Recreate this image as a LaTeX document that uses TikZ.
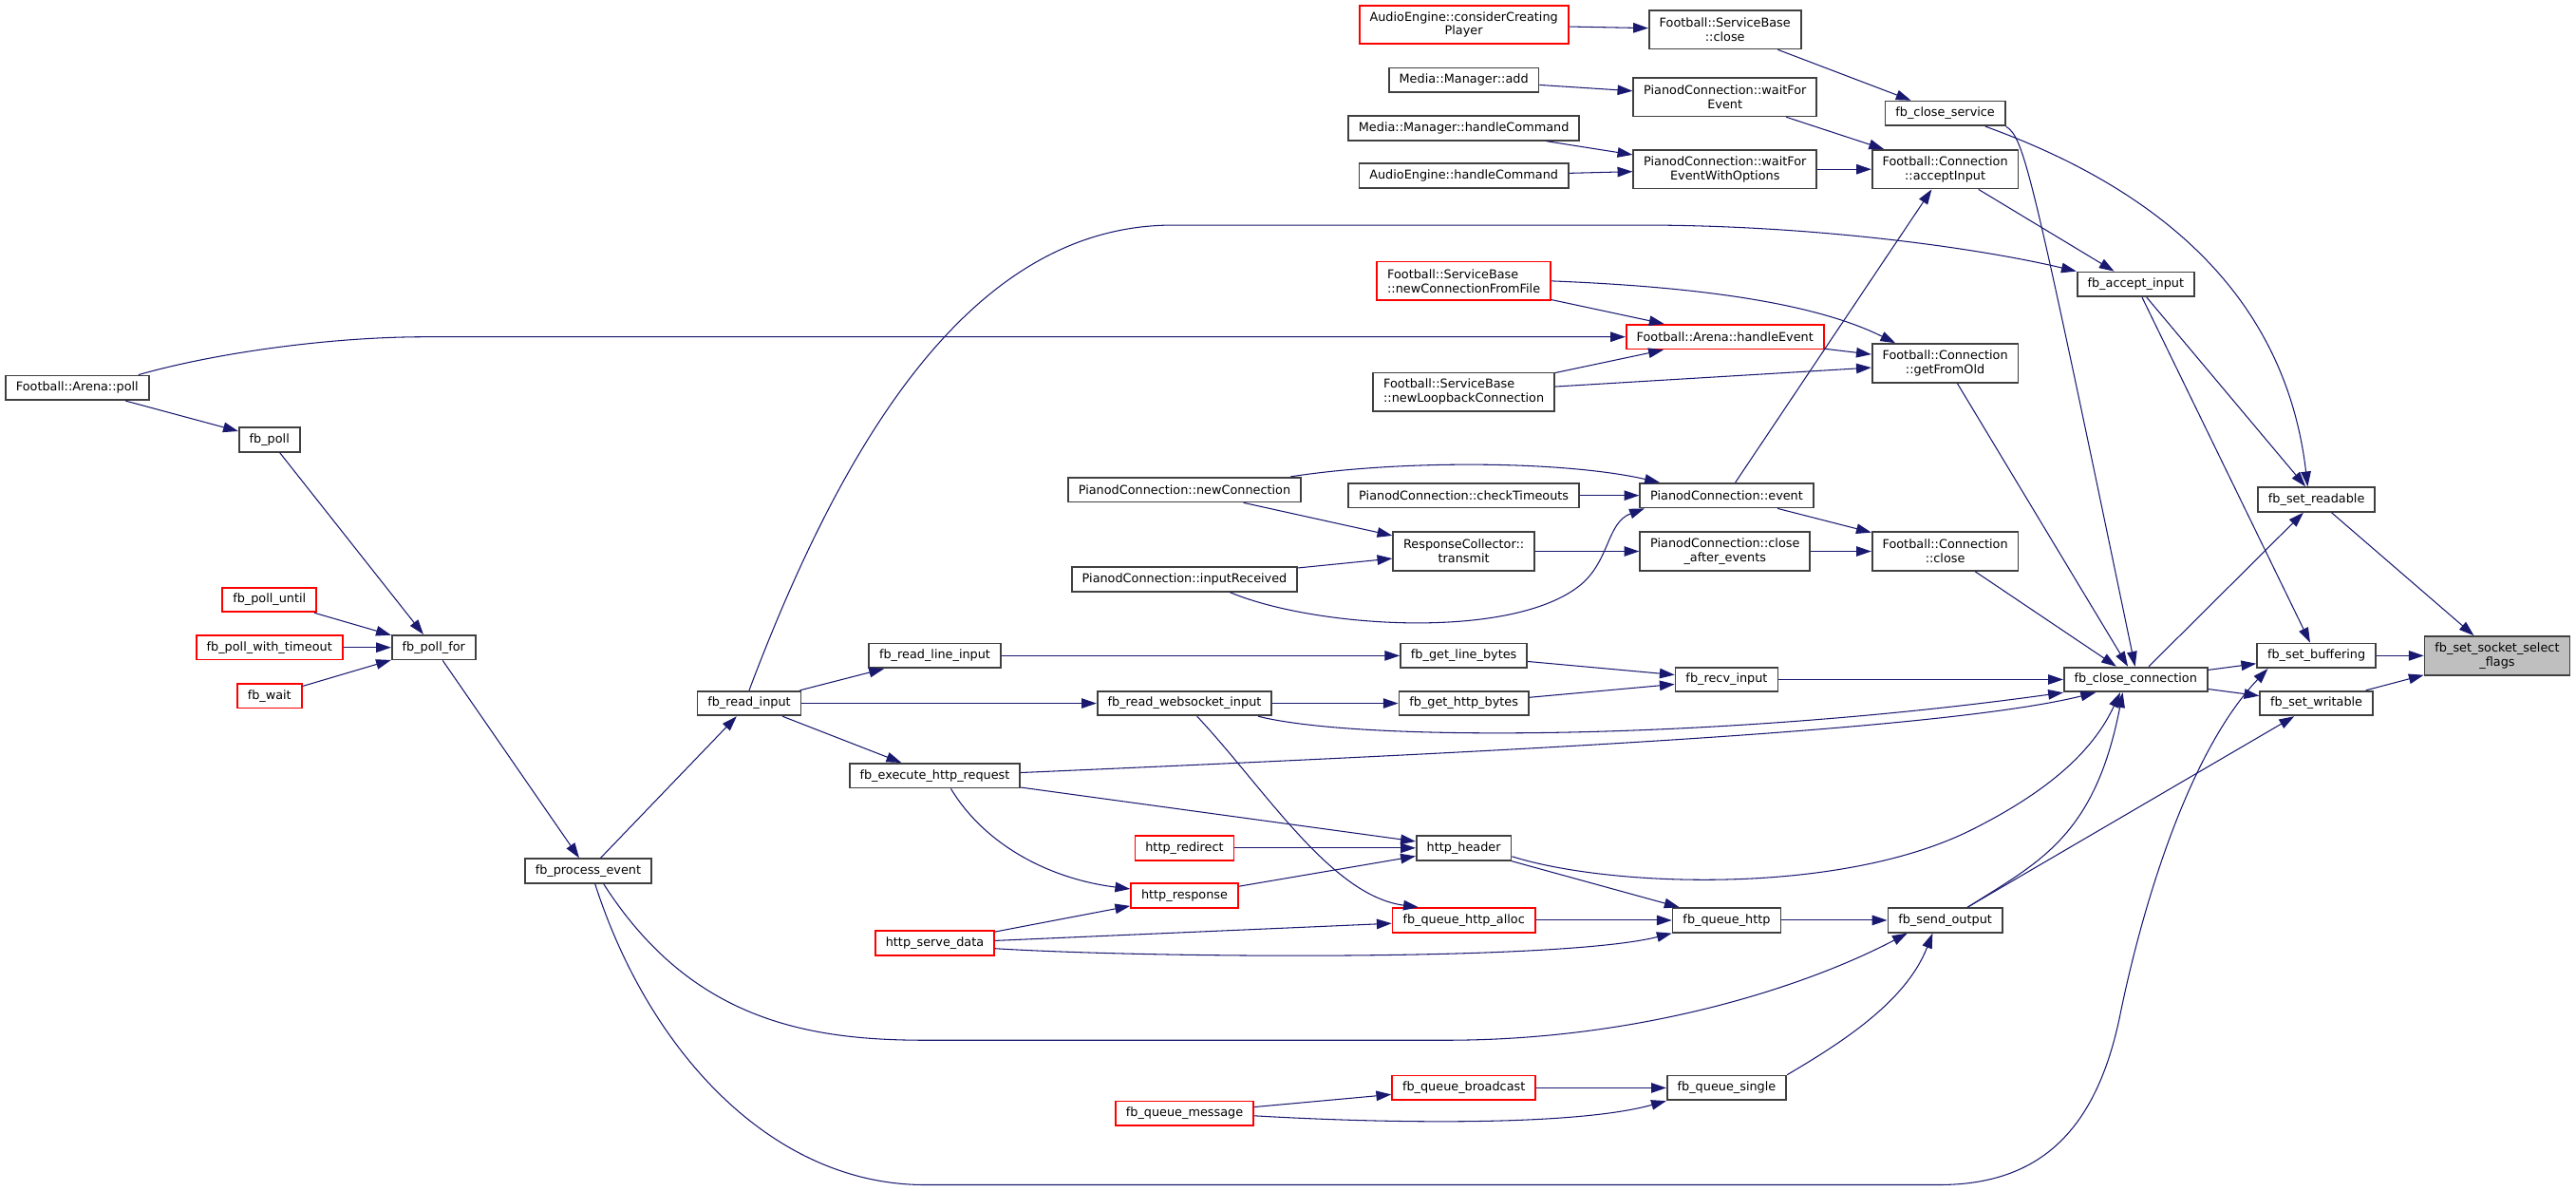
\documentclass[tikz,border=0pt]{standalone}
\usepackage{fontspec}
\setmainfont{DejaVu Sans}
\usetikzlibrary{arrows.meta}

\begin{document}
\begin{tikzpicture}[x=0.0346cm, y=-0.0346cm,
    fnbox/.style={draw=boxgrey, line width=1pt, fill=white, font=\fontsize{7.3}{8.5}\selectfont, inner xsep=6.2pt, inner ysep=1pt, minimum height=14.6pt, align=center},
    redbox/.style={fnbox, draw=red},
    rootbox/.style={fnbox, fill=rootgrey},
    twoline/.style={minimum height=23.1pt},
    calledge/.style={edgeblue, line width=0.6pt, -{Triangle[length=9pt,width=6pt]}}]
            \definecolor{edgeblue}{HTML}{191970}
            \definecolor{boxgrey}{HTML}{404040}
            \definecolor{rootgrey}{HTML}{BFBFBF}
            \useasboundingbox (0,0) rectangle (1568,724.2);

            \node[fnbox] (arenapoll) at (47,236) {Football::Arena::poll};
            \node[fnbox] (fbpoll) at (164,267.5) {fb\_poll};
            \node[redbox] (polluntil) at (164,365) {fb\_poll\_until};
            \node[redbox] (pollwithtimeout) at (164,394) {fb\_poll\_with\_timeout};
            \node[redbox] (fbwait) at (164,423.5) {fb\_wait};
            \node[fnbox] (pollfor) at (264,394) {fb\_poll\_for};
            \node[fnbox] (processevent) at (358,530) {fb\_process\_event};
            \node[fnbox] (readinput) at (456,428) {fb\_read\_input};
            \node[fnbox] (readlineinput) at (569,399) {fb\_read\_line\_input};
            \node[fnbox] (exechttp) at (569,472) {fb\_execute\_http\_request};
            \node[redbox] (servedata) at (569,574) {http\_serve\_data};
            \node[fnbox] (readwsinput) at (721,428) {fb\_read\_websocket\_input};
            \node[fnbox] (newconn) at (721,298) {PianodConnection::newConnection};
            \node[fnbox] (inputrecv) at (721,352.5) {PianodConnection::inputReceived};
            \node[redbox] (httpredirect) at (721,516) {http\_redirect};
            \node[redbox] (httpresponse) at (721,545) {http\_response};
            \node[redbox] (queuemessage) at (721,677.5) {fb\_queue\_message};
            \node[redbox, twoline] (considerplayer) at (891,15) {AudioEngine::considerCreating\\Player};
            \node[fnbox] (mmadd) at (891,48.7) {Media::Manager::add};
            \node[fnbox] (mmhandle) at (891,78) {Media::Manager::handleCommand};
            \node[fnbox] (aehandle) at (891,107) {AudioEngine::handleCommand};
            \node[redbox, twoline, align=left] (fromfile) at (891,171) {Football::ServiceBase\\::newConnectionFromFile};
            \node[fnbox, twoline, align=left] (loopback) at (891,238.6) {Football::ServiceBase\\::newLoopbackConnection};
            \node[fnbox] (checktimeouts) at (891,301.5) {PianodConnection::checkTimeouts};
            \node[fnbox, twoline] (transmit) at (891,335.5) {ResponseCollector::\\transmit};
            \node[fnbox] (getlinebytes) at (891,399) {fb\_get\_line\_bytes};
            \node[fnbox] (gethttpbytes) at (891,428) {fb\_get\_http\_bytes};
            \node[fnbox] (httpheader) at (891,516) {http\_header};
            \node[redbox] (queuehttpalloc) at (891,560) {fb\_queue\_http\_alloc};
            \node[redbox] (queuebroadcast) at (891,662) {fb\_queue\_broadcast};
            \node[fnbox, twoline] (sbclose) at (1050,18) {Football::ServiceBase\\::close};
            \node[fnbox, twoline] (waitevent) at (1050,59) {PianodConnection::waitFor\\Event};
            \node[fnbox, twoline] (waitopts) at (1050,103) {PianodConnection::waitFor\\EventWithOptions};
            \node[redbox] (handleevent) at (1050,205) {Football::Arena::handleEvent};
            \node[fnbox] (pevent) at (1051,301.5) {PianodConnection::event};
            \node[fnbox, twoline] (closeafter) at (1050,335.5) {PianodConnection::close\\\_after\_events};
            \node[fnbox] (recvinput) at (1051,413.5) {fb\_recv\_input};
            \node[fnbox] (queuehttp) at (1051,560) {fb\_queue\_http};
            \node[fnbox] (queuesingle) at (1051,662) {fb\_queue\_single};
            \node[fnbox] (closeservice) at (1184,69) {fb\_close\_service};
            \node[fnbox, twoline] (connaccept) at (1184,103) {Football::Connection\\::acceptInput};
            \node[fnbox, twoline] (getfromold) at (1184,221) {Football::Connection\\::getFromOld};
            \node[fnbox, twoline] (connclose) at (1184,335.5) {Football::Connection\\::close};
            \node[fnbox] (sendoutput) at (1184,560) {fb\_send\_output};
            \node[fnbox] (acceptinput) at (1300,173) {fb\_accept\_input};
            \node[fnbox] (closeconn) at (1300,413.5) {fb\_close\_connection};
            \node[fnbox] (setreadable) at (1410,304) {fb\_set\_readable};
            \node[fnbox] (setbuffering) at (1410,399) {fb\_set\_buffering};
            \node[fnbox] (setwritable) at (1410,428) {fb\_set\_writable};
            \node[rootbox, twoline] (setflags) at (1520,399) {fb\_set\_socket\_select\\\_flags};

            \draw[calledge] (setreadable) -- (setflags);
            \draw[calledge] (setbuffering) -- (setflags);
            \draw[calledge] (setwritable) -- (setflags);
            \draw[calledge] (closeservice.-18) .. controls (1300,110) and (1390,170) .. (setreadable.124);
            \draw[calledge] (acceptinput) -- (setreadable);
            \draw[calledge] (closeconn) -- (setreadable);
            \draw[calledge] (acceptinput) -- (setbuffering);
            \draw[calledge] (closeconn) -- (setbuffering);
            \draw[calledge] (closeconn) -- (setwritable);
            \draw[calledge] (sendoutput) -- (setwritable);
            \draw[calledge] (processevent.-62) .. controls (395,640) and (470,721) .. (563,721) -- (1180,721) .. controls (1240,721) and (1275,690) .. (1290,620) .. controls (1302,560) and (1330,460) .. (setbuffering.-165);

            \draw[calledge] (recvinput) -- (closeconn);
            \draw[calledge] (closeservice.south east) .. controls (1232,84) and (1236,100) .. (closeconn.93);
            \draw[calledge] (getfromold) -- (closeconn);
            \draw[calledge] (connclose) -- (closeconn);
            \draw[calledge] (readwsinput.-10) .. controls (830,452) and (1050,450) .. (closeconn.south west);
            \draw[calledge] (exechttp.2) .. controls (900,458) and (1180,445) .. (closeconn.-162);
            \draw[calledge] (httpheader.-10) .. controls (980,540) and (1120,545) .. (1200,505) .. controls (1250,480) and (1275,455) .. (closeconn.-140);
            \draw[calledge] (sendoutput.30) .. controls (1240,525) and (1275,510) .. (closeconn.-135);

            \draw[calledge] (getlinebytes) -- (recvinput);
            \draw[calledge] (gethttpbytes) -- (recvinput);
            \draw[calledge] (readlineinput) -- (getlinebytes);
            \draw[calledge] (readwsinput) -- (gethttpbytes);
            \draw[calledge] (readinput) -- (readlineinput);
            \draw[calledge] (readinput) -- (readwsinput);
            \draw[calledge] (readinput) -- (exechttp);
            \draw[calledge] (readinput.north) .. controls (520,250) and (600,137) .. (714,137) -- (1000,137) .. controls (1100,137) and (1200,150) .. (acceptinput.north west);
            \draw[calledge] (processevent) -- (readinput);
            \draw[calledge] (pollfor) -- (processevent);
            \draw[calledge] (fbpoll) -- (pollfor);
            \draw[calledge] (polluntil) -- (pollfor);
            \draw[calledge] (pollwithtimeout) -- (pollfor);
            \draw[calledge] (fbwait) -- (pollfor);
            \draw[calledge] (arenapoll) -- (fbpoll);
            \draw[calledge] (arenapoll.12) .. controls (130,215) and (200,205) .. (259,205) -- (handleevent.west);

            \draw[calledge] (fromfile) -- (handleevent);
            \draw[calledge] (loopback) -- (handleevent);
            \draw[calledge] (handleevent) -- (getfromold);
            \draw[calledge] (fromfile.east) .. controls (1020,174) and (1100,182) .. (getfromold.158);
            \draw[calledge] (loopback) -- (getfromold);
            \draw[calledge] (connaccept) -- (acceptinput);
            \draw[calledge] (pevent) -- (connaccept);
            \draw[calledge] (waitevent) -- (connaccept);
            \draw[calledge] (waitopts) -- (connaccept);
            \draw[calledge] (mmadd) -- (waitevent);
            \draw[calledge] (mmhandle) -- (waitopts);
            \draw[calledge] (aehandle) -- (waitopts);
            \draw[calledge] (considerplayer) -- (sbclose);
            \draw[calledge] (sbclose) -- (closeservice);

            \draw[calledge] (pevent) -- (connclose);
            \draw[calledge] (closeafter) -- (connclose);
            \draw[calledge] (newconn.7) .. controls (850,280) and (950,280) .. (pevent.169);
            \draw[calledge] (checktimeouts) -- (pevent);
            \draw[calledge] (inputrecv.-16) .. controls (800,382) and (920,390) .. (962,356) .. controls (980,341) and (978,318) .. (pevent.-171);
            \draw[calledge] (transmit) -- (closeafter);
            \draw[calledge] (newconn) -- (transmit);
            \draw[calledge] (inputrecv) -- (transmit);

            \draw[calledge] (exechttp) -- (httpheader);
            \draw[calledge] (exechttp.-39) .. controls (600,515) and (640,535) .. (httpresponse.173);
            \draw[calledge] (httpredirect) -- (httpheader);
            \draw[calledge] (httpresponse) -- (httpheader);
            \draw[calledge] (servedata) -- (httpresponse);
            \draw[calledge] (servedata) -- (queuehttpalloc);
            \draw[calledge] (servedata.-5) .. controls (700,583) and (950,585) .. (queuehttp.south west);
            \draw[calledge] (readwsinput.-46) .. controls (770,480) and (810,545) .. (queuehttpalloc.164);
            \draw[calledge] (httpheader) -- (queuehttp);
            \draw[calledge] (queuehttpalloc) -- (queuehttp);
            \draw[calledge] (queuehttp) -- (sendoutput);
            \draw[calledge] (processevent.-40) .. controls (420,620) and (490,633) .. (563,633) -- (880,633) .. controls (1000,633) and (1100,600) .. (sendoutput.-161);
            \draw[calledge] (queuesingle.north east) .. controls (1120,635) and (1160,610) .. (sendoutput.-134);
            \draw[calledge] (queuebroadcast) -- (queuesingle);
            \draw[calledge] (queuemessage) -- (queuebroadcast);
            \draw[calledge] (queuemessage.-2) .. controls (850,684) and (960,685) .. (queuesingle.south west);
        \end{tikzpicture}
\end{document}
